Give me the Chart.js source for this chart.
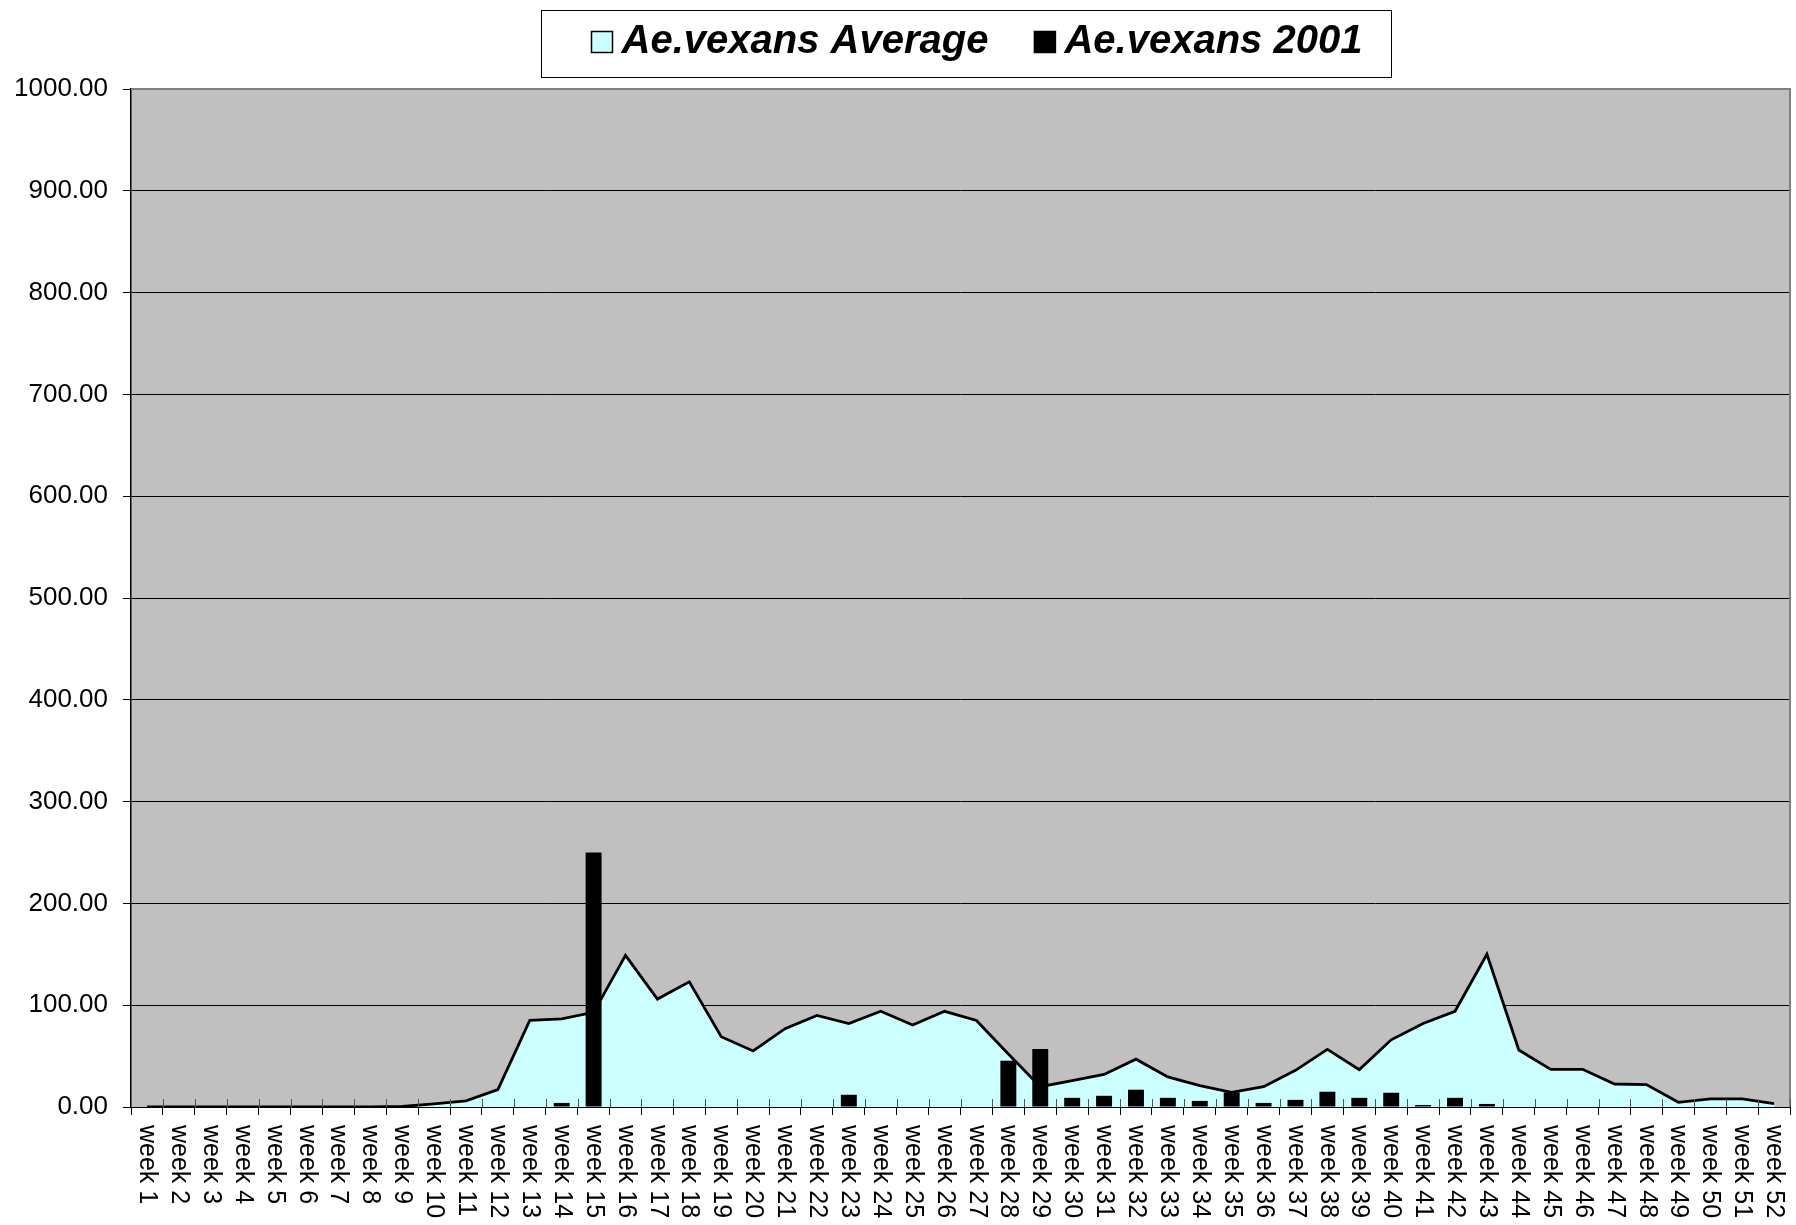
<!DOCTYPE html>
<html>
<head>
<meta charset="utf-8">
<script src="https://cdn.jsdelivr.net/npm/chart.js@4.4.1/dist/chart.umd.min.js"></script>
<style>
  html, body { margin: 0; padding: 0; background: #fff; }
  canvas { display: block; }
</style>
</head>
<body>
<canvas id="grafico" width="1796" height="1225"></canvas>
<script>
// Semanas do ano
const semanas = [
  "week 1", "week 2", "week 3", "week 4", "week 5", "week 6", "week 7", "week 8", "week 9", "week 10",
  "week 11", "week 12", "week 13", "week 14", "week 15", "week 16", "week 17", "week 18", "week 19", "week 20",
  "week 21", "week 22", "week 23", "week 24", "week 25", "week 26", "week 27", "week 28", "week 29", "week 30",
  "week 31", "week 32", "week 33", "week 34", "week 35", "week 36", "week 37", "week 38", "week 39", "week 40",
  "week 41", "week 42", "week 43", "week 44", "week 45", "week 46", "week 47", "week 48", "week 49", "week 50",
  "week 51", "week 52"
]

// Média de Ae.vexans por semana
const mediaVexans = [
  0, 0, 0, 0, 0, 0, 0, 0, 0.5, 3,
  6, 17, 85, 86.5, 93, 149, 106, 123, 69, 55,
  77, 90, 82, 94, 80.5, 94, 85, 52, 20, 26,
  32, 47, 29.5, 21, 14.4, 20, 36, 56.6, 36.7, 66,
  82, 94, 150, 56, 37, 37, 22.6, 22, 4.6, 8,
  8, 3.3
]

// Capturas de 2001
const vexans2001 = [
  0, 0, 0, 0, 0, 0, 0, 0, 0, 0,
  0, 0, 0, 4, 250, 0, 0, 0, 0, 0,
  0, 0, 12, 0, 0, 0, 0, 45.5, 57, 9,
  11, 17, 9, 6, 14.4, 4, 7, 15, 9, 14,
  2, 9, 3, 0, 0, 0, 0, 0, 0, 0,
  0, 0
]

// Eixo Y
const yMin = 0
const yMax = 1000
const yPasso = 100

const corFundo = "#C0C0C0"
const corArea = "#CCFFFF"
const fonteEixo = '"Liberation Sans", Arial, sans-serif'

// Fundo cinza, rótulos verticais, marcas internas e legenda com moldura
const decoracao = {
  id: "decoracao",
  beforeDraw(chart) {
    const { ctx, chartArea: a } = chart
    ctx.save()
    ctx.fillStyle = corFundo
    ctx.fillRect(a.left, a.top, a.right - a.left, a.bottom - a.top)
    ctx.restore()
  },
  afterDraw(chart) {
    const { ctx, chartArea: a } = chart
    const xEixo = chart.scales.x
    ctx.save()

    // bordas superior e direita
    ctx.strokeStyle = "#808080"
    ctx.lineWidth = 2
    ctx.beginPath()
    ctx.moveTo(a.left, a.top)
    ctx.lineTo(a.right, a.top)
    ctx.lineTo(a.right, a.bottom)
    ctx.stroke()

    // marcas do eixo x para dentro da área
    ctx.strokeStyle = "#555"
    ctx.lineWidth = 1
    const larg = xEixo.width / semanas.length
    for (let i = 1; i <= semanas.length; i++) {
      const x = Math.round(a.left + i * larg) + 0.5
      ctx.beginPath()
      ctx.moveTo(x, a.bottom - 8)
      ctx.lineTo(x, a.bottom)
      ctx.stroke()
    }

    // rótulos das semanas, girados no sentido horário
    ctx.fillStyle = "#000"
    ctx.font = "25px " + fonteEixo
    ctx.textAlign = "left"
    ctx.textBaseline = "middle"
    semanas.forEach((s, i) => {
      const x = xEixo.getPixelForValue(i)
      ctx.save()
      ctx.translate(x, a.bottom + 18)
      ctx.rotate(Math.PI / 2)
      ctx.fillText(s, 0, 0)
      ctx.restore()
    })

    // legenda
    const caixa = { w: 850, top: 10, bottom: 77 }
    caixa.left = Math.round((a.left + a.right) / 2 - caixa.w / 2) + 5.5
    ctx.fillStyle = "#fff"
    ctx.fillRect(caixa.left, caixa.top, caixa.w, caixa.bottom - caixa.top)
    ctx.strokeStyle = "#000"
    ctx.lineWidth = 1
    ctx.strokeRect(caixa.left, caixa.top + 0.5, caixa.w, caixa.bottom - caixa.top)

    ctx.font = "bold italic 40px " + fonteEixo
    const yMeio = 42
    const lado = 21
    let x = caixa.left + 50
    chart.data.datasets.forEach(ds => {
      ctx.fillStyle = ds.backgroundColor
      ctx.fillRect(x, yMeio - lado / 2, lado, lado)
      ctx.strokeStyle = "#000"
      ctx.lineWidth = 1.5
      ctx.strokeRect(x, yMeio - lado / 2, lado, lado)
      x += lado + 9
      ctx.fillStyle = "#000"
      ctx.fillText(ds.label, x, yMeio)
      x += ctx.measureText(ds.label).width + 46
    })

    ctx.restore()
  }
}

const ctxGrafico = document.getElementById("grafico").getContext("2d")
new Chart(ctxGrafico, {
  type: "bar",
  data: {
    labels: semanas,
    datasets: [
      {
        type: "line",
        label: "Ae.vexans Average",
        data: mediaVexans,
        borderColor: "#000",
        borderWidth: 2.8,
        backgroundColor: corArea,
        fill: "origin",
        pointRadius: 0,
        tension: 0,
        order: 2
      },
      {
        type: "bar",
        label: "Ae.vexans 2001",
        data: vexans2001,
        backgroundColor: "#000",
        barPercentage: 0.5,
        categoryPercentage: 1,
        order: 1
      }
    ]
  },
  options: {
    responsive: false,
    animation: false,
    layout: { padding: { top: 89, right: 6, bottom: 0, left: 0 } },
    plugins: {
      legend: { display: false },
      tooltip: { enabled: false }
    },
    scales: {
      x: {
        grid: { drawOnChartArea: false, drawTicks: true, tickLength: 8, color: "#000", offset: true },
        border: { color: "#000", width: 1 },
        ticks: { display: false },
        afterFit: s => { s.height = 118 }
      },
      y: {
        min: yMin,
        max: yMax,
        ticks: {
          stepSize: yPasso,
          callback: v => Number(v).toFixed(2),
          color: "#000",
          padding: 15,
          font: { family: fonteEixo, size: 26 }
        },
        grid: { color: "#000", tickLength: 8 },
        border: { color: "#000", width: 1.5 },
        afterFit: s => { s.width = 131 }
      }
    }
  },
  plugins: [decoracao]
})
</script>
</body>
</html>
